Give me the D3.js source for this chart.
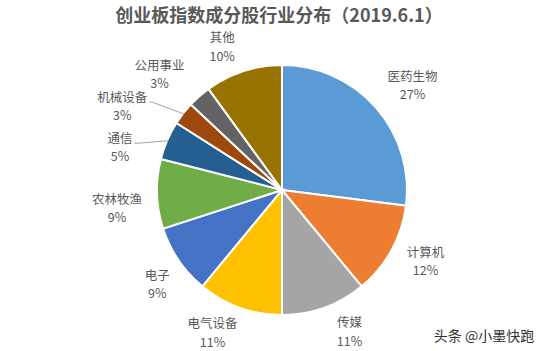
<!DOCTYPE html>
<html>
<head>
<meta charset="utf-8">
<script src="https://cdn.jsdelivr.net/npm/d3@7"></script>
<style>
  body { margin: 0; background: #fff; }
  text { font-family: "Microsoft YaHei", "Noto Sans CJK SC", sans-serif; }
</style>
</head>
<body>
<div id="chart-area"></div>
<script>
// Data
const categories = ['医药生物', '计算机', '传媒', '电气设备', '电子', '农林牧渔', '通信', '机械设备', '公用事业', '其他'];
const shares = [27, 12, 11, 11, 9, 9, 5, 3, 3, 10];
const colors = ['#5B9BD5', '#ED7D31', '#A5A5A5', '#FFC000', '#4472C4', '#70AD47', '#255E91', '#9E480E', '#636363', '#997300'];

const width = 544;
const height = 351;
const cx = 282, cy = 190, radius = 125;

const svg = d3.select('#chart-area')
    .append('svg')
    .attr('width', width)
    .attr('height', height);

// Title
svg.append('text')
    .attr('x', 279)
    .attr('y', 22)
    .attr('text-anchor', 'middle')
    .attr('font-size', '18px')
    .attr('font-weight', 'bold')
    .attr('fill', '#595959')
    .text('创业板指数成分股行业分布（2019.6.1）');

const data = categories.map((c, i) => ({ name: c, value: shares[i], color: colors[i] }));

const pie = d3.pie()
    .value(d => d.value)
    .sort(null);

const arc = d3.arc()
    .innerRadius(0)
    .outerRadius(radius);

const g = svg.append('g')
    .attr('transform', 'translate(' + cx + ', ' + cy + ')');

const arcs = pie(data);

g.selectAll('path')
    .data(arcs)
    .enter()
    .append('path')
    .attr('d', arc)
    .attr('fill', d => d.data.color)
    .attr('stroke', '#fff')
    .attr('stroke-width', 2);

// Label placement: polar from slice mid-angle, nudged like Excel's best-fit
const labelRadius = 158;
const nudge = {
    '医药生物': [12, 0],
    '计算机': [5, -5],
    '传媒': [14, -7],
    '电气设备': [-16, -6],
    '电子': [6, 5],
    '农林牧渔': [-7, 13],
    '通信': [-17, 20],
    '机械设备': [-35, 13],
    '公用事业': [-18, 3],
    '其他': [-11, 7]
};
const leader = { '通信': true, '机械设备': true };

const mid = d => (d.startAngle + d.endAngle) / 2;

arcs.forEach(d => {
    const a = mid(d);
    const off = nudge[d.data.name] || [0, 0];
    const lx = labelRadius * Math.sin(a) + off[0];
    const ly = -labelRadius * Math.cos(a) + off[1];

    const name = g.append('text')
        .attr('x', lx)
        .attr('y', ly - 4.3)
        .attr('text-anchor', 'middle')
        .attr('font-size', '12.5px')
        .attr('fill', '#595959')
        .text(d.data.name);
    g.append('text')
        .attr('x', lx)
        .attr('y', ly + 13.9)
        .attr('text-anchor', 'middle')
        .attr('font-size', '12.5px')
        .attr('fill', '#595959')
        .text(d.data.value + '%');

    if (leader[d.data.name]) {
        const w = name.node().getComputedTextLength();
        const px = (radius - 1) * Math.sin(a);
        const py = -(radius - 1) * Math.cos(a);
        const sx = lx + w / 2 + 2;
        const sy = ly - 4;
        g.append('polyline')
            .attr('points', [[sx, sy], [sx + 3, sy], [px, py]].map(p => p.join(',')).join(' '))
            .attr('fill', 'none')
            .attr('stroke', '#A6A6A6')
            .attr('stroke-width', 1);
    }
});

// Watermark
svg.append('text')
    .attr('x', 484)
    .attr('y', 341)
    .attr('text-anchor', 'middle')
    .attr('font-size', '14px')
    .attr('fill', '#333')
    .text('头条 @小墨快跑');
</script>
</body>
</html>
